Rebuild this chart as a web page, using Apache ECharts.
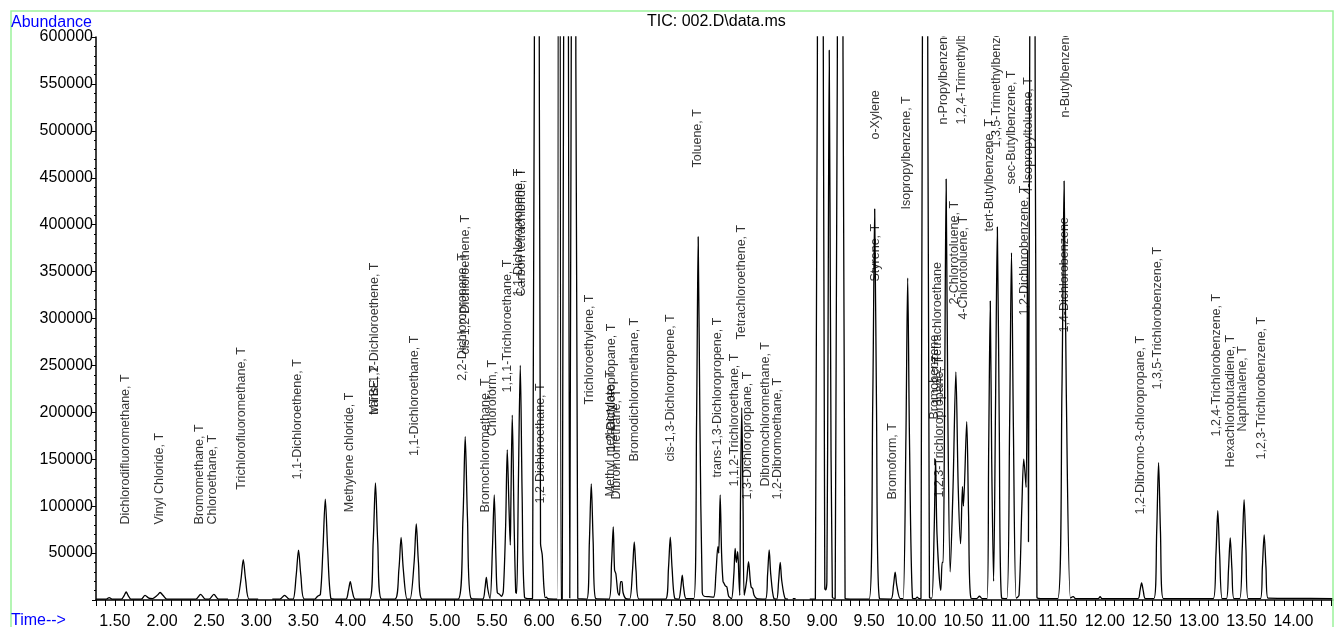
<!DOCTYPE html>
<html>
<head>
<meta charset="utf-8">
<script src="https://cdn.jsdelivr.net/npm/echarts@6/dist/echarts.min.js"></script>
<style>
  html, body { margin: 0; padding: 0; background: #fff; }
  #tic_chart { width: 1335px; height: 627px; }
</style>
</head>
<body>
<div id="tic_chart"></div>
<script>
  // time (min) / abundance pairs, split by region
  const traceEarly = [
    [1.30, 1000], [1.41, 1000], [1.44, 2500], [1.47, 1000],
    [1.57, 1000], [1.60, 5000], [1.62, 8500], [1.64, 5000], [1.67, 1000],
    [1.78, 1000], [1.82, 5000], [1.86, 2000], [1.90, 1500], [1.95, 5000], [1.98, 8000], [2.01, 5000], [2.05, 1000],
    [2.36, 1000], [2.41, 6000], [2.46, 1000], [2.50, 1000], [2.55, 6000], [2.60, 1000],
    [2.70, 1000], [2.745, null], [2.79, 1000],
    [2.80, 1000], [2.837, 21500], [2.862, 43000], [2.887, 21500], [2.925, 1000],
    [3.02, 1000], [3.09, null], [3.17, 1000],
    [3.25, 1000], [3.30, 5000], [3.35, 1000],
    [3.39, 1000], [3.423, 26000], [3.448, 53000], [3.473, 26000], [3.51, 1000],
    [3.62, 1000], [3.65, 4000], [3.68, 6000], [3.707, 54000], [3.732, 107600], [3.757, 54000], [3.79, 2000], [3.83, 1000],
    [3.95, 1000], [3.977, 10000], [3.997, 19500], [4.017, 10000], [4.05, 1000],
    [4.20, 1000], [4.24, 62000], [4.264, 124700], [4.288, 62000], [4.33, 1000],
    [4.47, 1000], [4.513, 33000], [4.536, 66800], [4.559, 33000], [4.60, 1000],
    [4.63, 1000], [4.674, 40000], [4.697, 81000], [4.72, 40000], [4.76, 1000]
  ];
  const traceMid = [
    [5.14, 1000], [5.192, 87000], [5.216, 174000], [5.24, 87000], [5.28, 1500],
    [5.40, 1000], [5.425, 12000], [5.44, 24000], [5.455, 12000], [5.48, 1500],
    [5.505, 56000], [5.524, 112000], [5.543, 40000], [5.556, 8000], [5.58, 6000], [5.60, 4000], [5.62, 9000],
    [5.645, 80000], [5.662, 160000], [5.68, 100000], [5.694, 58600], [5.70, 100000], [5.715, 197000], [5.735, 80000], [5.752, 8000], [5.762, 7000],
    [5.78, 125000], [5.80, 250000], [5.82, 110000], [5.845, 3000], [5.90, 1500],
    [5.93, 1500], [5.955, 1000000], [5.975, 2500000], [5.995, 1000000], [6.015, 60000], [6.033, 48000], [6.05, 15000], [6.065, 2500], [6.078, 3000], [6.09, 1500],
    [6.19, 1000], [6.21, 2500000], [6.232, 1000],
    [6.245, 1000], [6.265, 1000000], [6.285, 2500000], [6.305, 1000000], [6.325, 2000],
    [6.33, 2000], [6.35, 1000000], [6.368, 2500000], [6.386, 1000000], [6.41, 1500],
    [6.505, 1000], [6.533, 62000], [6.553, 123600], [6.573, 62000], [6.60, 1500],
    [6.74, 1000], [6.768, 39000], [6.786, 78000], [6.80, 32000], [6.814, 28000], [6.835, 8000], [6.85, 5000], [6.865, 19500], [6.878, 19500], [6.89, 8000], [6.92, 1500],
    [6.96, 1000], [6.99, 31000], [7.009, 62000], [7.028, 31000], [7.06, 1000]
  ];
  const traceLate = [
    [7.34, 1000], [7.372, 34000], [7.391, 67000], [7.41, 34000], [7.44, 1500],
    [7.48, 1000], [7.503, 13000], [7.518, 26600], [7.533, 13000], [7.56, 1500],
    [7.64, 1500], [7.67, 193000], [7.687, 387000], [7.705, 193000], [7.73, 8000], [7.75, 4000], [7.80, 3500], [7.85, 3000],
    [7.875, 28000], [7.896, 56800], [7.905, 50000], [7.92, 112000], [7.935, 50000], [7.95, 20000], [7.96, 18000], [7.975, 15000], [7.991, 14000], [8.01, 4000], [8.04, 1500],
    [8.065, 27000], [8.079, 55000], [8.092, 40000], [8.106, 51500], [8.12, 20000], [8.128, 5000],
    [8.135, 100000], [8.149, 205000], [8.163, 100000], [8.175, 5000],
    [8.20, 20000], [8.221, 40800], [8.24, 20000], [8.252, 13000], [8.263, 12800], [8.28, 5000], [8.31, 1500],
    [8.40, 1000], [8.423, 27000], [8.44, 53300], [8.457, 27000], [8.49, 1500],
    [8.52, 1000], [8.54, 20000], [8.557, 40200], [8.574, 20000], [8.61, 1500],
    [8.64, 1000], [8.66, null], [8.69, 1500], [8.72, 1500], [8.75, null], [8.87, 1000],
    [8.93, 1000], [8.955, 1000000], [8.981, 2500000], [9.005, 1000000], [9.03, 12000], [9.04, 10700], [9.052, 20000],
    [9.065, 300000], [9.077, 586000], [9.09, 300000], [9.11, 3000], [9.14, 1500],
    [9.17, 1000000], [9.195, 2500000], [9.218, 1000000], [9.245, 2000], [9.30, 1000]
  ];
  const traceEnd = [
    [9.50, 1000], [9.538, 208000], [9.559, 416700], [9.578, 208000], [9.61, 1500],
    [9.73, 1000], [9.758, 15000], [9.776, 29800], [9.794, 15000], [9.83, 1500],
    [9.86, 1500], [9.89, 171000], [9.909, 343000], [9.928, 171000], [9.96, 2000], [9.99, 1500], [10.01, 3000], [10.03, 1500],
    [10.05, 1500], [10.07, 1000000], [10.092, 2500000], [10.114, 1000000], [10.14, 3000], [10.165, 2000],
    [10.19, 75000], [10.205, 150000], [10.22, 70000], [10.26, 10000], [10.275, 40000], [10.285, 40000],
    [10.30, 200000], [10.317, 448600], [10.335, 200000], [10.36, 30000],
    [10.39, 120000], [10.42, 243000], [10.445, 120000], [10.47, 60000], [10.49, 121000], [10.50, 100000], [10.535, 190000], [10.555, 90000], [10.58, 2000],
    [10.64, 1500], [10.67, 4000], [10.70, 1500],
    [10.75, 1500], [10.768, 160000], [10.785, 318600], [10.80, 150000], [10.82, 20000], [10.84, 200000], [10.86, 397500], [10.88, 190000], [10.905, 2000],
    [10.96, 1500], [10.99, 185000], [11.01, 370000], [11.03, 185000], [11.06, 2000],
    [11.09, 5000], [11.12, 100000], [11.14, 150000], [11.165, 120000], [11.18, 373000], [11.19, 62000],
    [11.21, 1000000], [11.232, 2500000], [11.254, 1000000], [11.28, 3000], [11.32, 1500],
    [11.50, 1500], [11.545, 223000], [11.568, 446500], [11.591, 223000], [11.635, 2000], [11.665, 3500], [11.69, 1500],
    [11.93, 1500], [11.95, 3500], [11.97, 1500],
    [12.35, 1500], [12.372, 9500], [12.39, 18100], [12.408, 9500], [12.43, 1500],
    [12.52, 1500], [12.55, 73000], [12.57, 146400], [12.59, 73000], [12.62, 1500],
    [13.15, 1500], [13.178, 47600], [13.198, 95200], [13.218, 47600], [13.245, 1500],
    [13.29, 1500], [13.312, 33000], [13.33, 66300], [13.348, 33000], [13.37, 1500],
    [13.43, 1500], [13.457, 53500], [13.477, 107000], [13.497, 53500], [13.52, 1500],
    [13.65, 1500], [13.671, 35000], [13.69, 69500], [13.709, 35000], [13.73, 2000], [14.00, 1800], [14.42, 1500]
  ];

  // [time, abundance where the text starts, text]
  const compoundLabels = [
    [1.618, 80000, 'Dichlorodifluoromethane, T'],
    [1.982, 80000, 'Vinyl Chloride, T'],
    [2.406, 80000, 'Bromomethane, T'],
    [2.539, 80000, 'Chloroethane, T'],
    [2.846, 117000, 'Trichlorofluoromethane, T'],
    [3.445, 128000, '1,1-Dichloroethene, T'],
    [3.997, 93000, 'Methylene chloride, T'],
    [4.262, 197000, 'MTBE, T'],
    [4.262, 197000, 'trans-1,2-Dichloroethene, T'],
    [4.686, 153000, '1,1-Dichloroethane, T'],
    [5.195, 233000, '2,2-Dichloropropane, T'],
    [5.227, 261000, 'cis-1,2-Dichloroethene, T'],
    [5.439, 92700, 'Bromochloromethane, T'],
    [5.513, 174000, 'Chloroform, T'],
    [5.672, 220600, '1,1,1-Trichloroethane, T'],
    [5.789, 323000, '1,1-Dichloropropene, T'],
    [5.815, 323000, 'Carbon tetrachloride, T'],
    [6.022, 102300, '1,2-Dichloroethane, T'],
    [6.542, 207800, 'Trichloroethylene, T'],
    [6.765, 109800, 'Methyl methacrylate, T'],
    [6.775, 157700, '1,2-Dichloropropane, T'],
    [6.829, 106600, 'Dibromomethane, T'],
    [7.020, 147000, 'Bromodichloromethane, T'],
    [7.401, 147000, 'cis-1,3-Dichloropropene, T'],
    [7.687, 460400, 'Toluene, T'],
    [7.899, 130000, 'trans-1,3-Dichloropropene, T'],
    [8.079, 120400, '1,1,2-Trichloroethane, T'],
    [8.153, 277100, 'Tetrachloroethene, T'],
    [8.217, 106600, '1,3-Dichloropropane, T'],
    [8.408, 120400, 'Dibromochloromethane, T'],
    [8.530, 106600, '1,2-Dibromoethane, T'],
    [9.575, 338900, 'Styrene, T'],
    [9.575, 490200, 'o-Xylene'],
    [9.755, 106600, 'Bromoform, T'],
    [9.904, 415600, 'Isopropylbenzene, T'],
    [10.200, 191800, 'Bromobenzene'],
    [10.227, 207800, '1,1,2,2-Tetrachloroethane'],
    [10.253, 108700, '1,2,3-Trichloropropane, T'],
    [10.296, 506200, 'n-Propylbenzene, T'],
    [10.413, 314400, '2-Chlorotoluene, T'],
    [10.487, 506200, '1,2,4-Trimethylbenzene, T'],
    [10.508, 298400, '4-Chlorotoluene, T'],
    [10.784, 392200, 'tert-Butylbenzene, T'],
    [10.858, 481700, '1,3,5-Trimethylbenzene, T'],
    [11.017, 442300, 'sec-Butylbenzene, T'],
    [11.155, 302700, '1,2-Dichlorobenzene, T'],
    [11.197, 431600, '4-Isopropyltoluene, T'],
    [11.579, 284500, '1,4-Dichlorobenzene'],
    [11.590, 513700, 'n-Butylbenzene, T'],
    [12.385, 90600, '1,2-Dibromo-3-chloropropane, T'],
    [12.566, 223800, '1,3,5-Trichlorobenzene, T'],
    [13.191, 173700, '1,2,4-Trichlorobenzene, T'],
    [13.340, 140700, 'Hexachlorobutadiene, T'],
    [13.467, 179000, 'Naphthalene, T'],
    [13.669, 149200, '1,2,3-Trichlorobenzene, T']
  ];

  const timeTickLabels = [1.5, 2, 2.5, 3, 3.5, 4, 4.5, 5, 5.5, 6, 6.5, 7, 7.5, 8, 8.5, 9, 9.5,
    10, 10.5, 11, 11.5, 12, 12.5, 13, 13.5, 14];
  const timeTicks = [];
  for (let k = 13; k <= 144; k++) timeTicks.push(k / 10);

  const traceData = traceEarly.concat(traceMid, traceLate, traceEnd);
  const labelFont = "'Liberation Sans', Arial, sans-serif";

  const option = {
    animation: false,
    grid: {
      left: 96,
      right: 2,
      top: 37,
      bottom: 27,
      outerBoundsMode: 'none'
    },
    xAxis: {
      type: 'value',
      min: 1.30,
      max: 14.42,
      axisLine: { lineStyle: { color: '#000', width: 1.5 } },
      axisTick: { customValues: timeTicks, length: 6, lineStyle: { color: '#000' } },
      axisLabel: {
        customValues: timeTickLabels,
        formatter: v => v.toFixed(2),
        color: '#000',
        fontSize: 16,
        fontFamily: labelFont,
        margin: 14
      },
      splitLine: { show: false }
    },
    yAxis: {
      type: 'value',
      min: 0,
      max: 600000,
      interval: 50000,
      axisLine: { show: true, lineStyle: { color: '#000', width: 1.5 } },
      axisTick: { show: true, length: 4, lineStyle: { color: '#000' } },
      minorTick: { show: true, splitNumber: 5, length: 2, lineStyle: { color: '#000' } },
      axisLabel: {
        formatter: v => (v === 0 ? '' : String(v)),
        color: '#000',
        fontSize: 16,
        fontFamily: labelFont,
        margin: 3
      },
      splitLine: { show: false }
    },
    graphic: [
      // white band above the plot cuts the long labels off like the original
      { type: 'rect', zlevel: 1, z: 1, silent: true, shape: { x: 97, y: 0, width: 1238, height: 36 }, style: { fill: '#fff' } },
      { type: 'rect', zlevel: 1, z: 2, silent: true, shape: { x: 11, y: 11, width: 1322, height: 650 }, style: { fill: 'none', stroke: '#9cf29c', lineWidth: 1.5 } },
      { type: 'text', zlevel: 1, z: 3, left: 11, top: 15, style: { text: 'Abundance', fill: '#0000ff', font: "16px 'Liberation Sans', Arial" } },
      { type: 'text', zlevel: 1, z: 3, left: 11, top: 613, style: { text: 'Time-->', fill: '#0000ff', font: "16px 'Liberation Sans', Arial" } },
      { type: 'text', zlevel: 1, z: 3, left: 647, top: 14, style: { text: 'TIC: 002.D\\data.ms', fill: '#000', font: "16px 'Liberation Sans', Arial" } }
    ],
    series: [
      {
        name: 'TIC',
        type: 'line',
        data: traceData,
        symbol: 'none',
        smooth: 0.3,
        clip: true,
        connectNulls: false,
        lineStyle: { color: '#000', width: 1.3 }
      },
      {
        name: 'labels',
        type: 'scatter',
        symbolSize: 1,
        itemStyle: { color: 'rgba(0,0,0,0)' },
        silent: true,
        z: 5,
        data: compoundLabels.map(l => ({ value: [l[0], l[1]], name: l[2] })),
        label: {
          show: true,
          position: [0, 0],
          rotate: 90,
          align: 'left',
          verticalAlign: 'middle',
          formatter: '{b}',
          color: '#000',
          fontSize: 12.5,
          fontFamily: labelFont
        }
      }
    ]
  };

  const ticChart = echarts.init(document.getElementById('tic_chart'));
  ticChart.setOption(option);
</script>
</body>
</html>
